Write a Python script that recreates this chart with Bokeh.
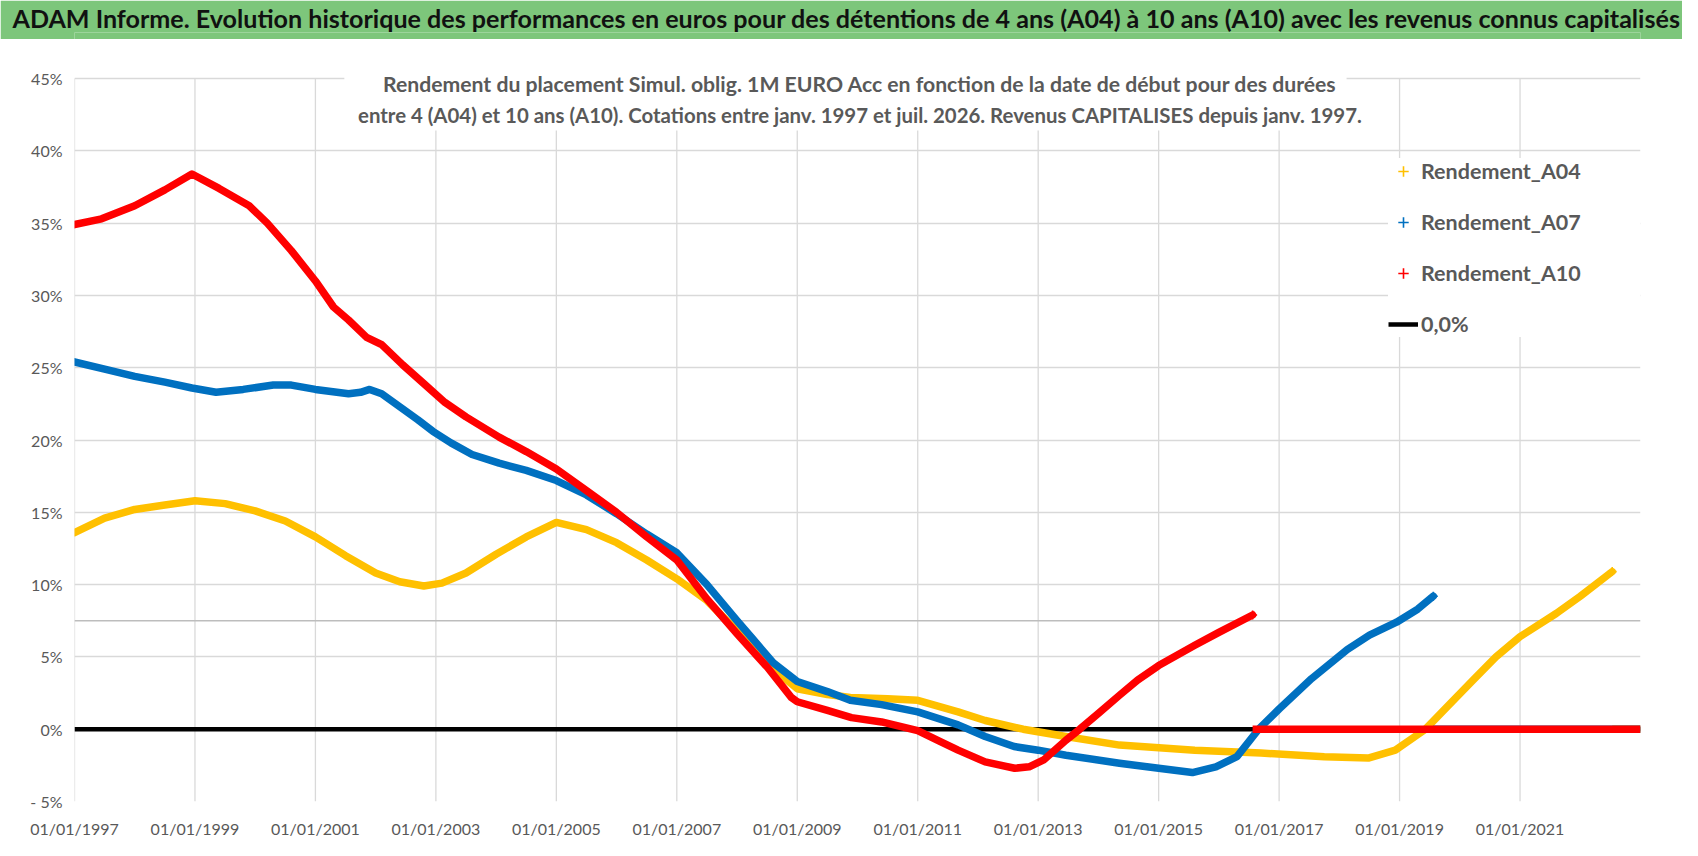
from bokeh.plotting import figure
from bokeh.models import (FixedTicker, Legend, LegendItem, Label, BoxAnnotation,
                          Span, Range1d)
from bokeh.layouts import column
from bokeh.embed import file_html
from bokeh.resources import INLINE

# ---------------- texts ----------------
TITLE = ("ADAM Informe. Evolution historique des performances en euros pour des "
         "détentions de 4 ans (A04) à 10 ans (A10) avec les revenus connus capitalisés")
SUBTITLE_1 = ("Rendement du placement Simul. oblig. 1M EURO Acc en fonction de la date "
              "de début pour des durées")
SUBTITLE_2 = ("entre 4 (A04) et 10 ans (A10). Cotations entre janv. 1997 et juil. 2026. "
              "Revenus CAPITALISES depuis janv. 1997.")

# ---------------- axes ----------------
x_tick_years = [1997, 1999, 2001, 2003, 2005, 2007, 2009, 2011, 2013, 2015, 2017, 2019, 2021]
x_tick_labels = ["01/01/1997", "01/01/1999", "01/01/2001", "01/01/2003", "01/01/2005",
                 "01/01/2007", "01/01/2009", "01/01/2011", "01/01/2013", "01/01/2015",
                 "01/01/2017", "01/01/2019", "01/01/2021"]
y_tick_values = [-5, 0, 5, 10, 15, 20, 25, 30, 35, 40, 45]
y_tick_labels = ["- 5%", "0%", "5%", "10%", "15%", "20%", "25%", "30%", "35%", "40%", "45%"]
X_START, X_END = 1997.0, 2023.0
Y_MIN, Y_MAX = -5, 45
Y_FRAME_TOP = 47.7          # frame extends a little above the 45% line (room for subtitle)

# ---------------- data (decimal year, %) ----------------
a04_dates = [1997.0, 1997.5, 1998.0, 1998.5, 1999.0, 1999.5, 2000.0, 2000.5, 2001.0, 2001.5,
             2002.0, 2002.4, 2002.8, 2003.1, 2003.5, 2004.0, 2004.5, 2005.0, 2005.5, 2006.0,
             2006.5, 2007.0, 2007.5, 2008.0, 2008.5, 2009.0, 2009.5, 2009.88, 2010.5, 2011.0,
             2011.67, 2012.12, 2012.75, 2013.46, 2014.35, 2015.6, 2016.7, 2017.75, 2018.48,
             2018.93, 2019.43, 2019.8, 2020.22, 2020.6, 2021.0, 2021.6, 2022.0, 2022.53]
a04_values = [13.6, 14.6, 15.2, 15.5, 15.8, 15.6, 15.1, 14.4, 13.3, 12.0,
              10.8, 10.2, 9.9, 10.1, 10.8, 12.1, 13.3, 14.3, 13.8, 12.9,
              11.7, 10.4, 8.9, 6.8, 4.5, 2.8, 2.4, 2.2, 2.1, 2.0,
              1.2, 0.6, 0.0, -0.5, -1.1, -1.45, -1.65, -1.9, -2.0,
              -1.45, 0.0, 1.6, 3.4, 5.0, 6.4, 8.0, 9.2, 10.9]

a07_dates = [1997.0, 1997.5, 1998.0, 1998.5, 1998.95, 1999.35, 1999.8, 2000.3, 2000.6, 2001.0,
             2001.55, 2001.75, 2001.9, 2002.1, 2002.4, 2002.7, 2002.95, 2003.25, 2003.6, 2004.05,
             2004.5, 2005.0, 2005.5, 2006.0, 2006.5, 2007.0, 2007.5, 2008.0, 2008.27, 2008.6,
             2009.0, 2009.5, 2009.88, 2010.4, 2011.0, 2011.67, 2012.12, 2012.6, 2013.0, 2013.46,
             2014.35, 2015.0, 2015.56, 2015.95, 2016.3, 2016.66, 2017.0, 2017.54, 2018.13,
             2018.5, 2018.95, 2019.3, 2019.56]
a07_values = [25.4, 24.9, 24.4, 24.0, 23.6, 23.3, 23.5, 23.8, 23.8, 23.5,
              23.2, 23.3, 23.5, 23.2, 22.3, 21.4, 20.6, 19.8, 19.0, 18.4,
              17.9, 17.2, 16.2, 14.9, 13.5, 12.2, 10.0, 7.5, 6.2, 4.6,
              3.3, 2.6, 2.0, 1.7, 1.2, 0.3, -0.5, -1.2, -1.45, -1.8,
              -2.35, -2.7, -3.0, -2.6, -1.9, 0.0, 1.4, 3.5, 5.5,
              6.5, 7.4, 8.3, 9.2]

a10_dates = [1997.0, 1997.45, 1998.0, 1998.5, 1998.95, 1999.4, 1999.9, 2000.2, 2000.6, 2001.0,
             2001.3, 2001.55, 2001.85, 2002.1, 2002.45, 2002.8, 2003.15, 2003.5, 2004.05, 2004.5,
             2005.0, 2005.5, 2006.0, 2006.5, 2007.0, 2007.5, 2008.0, 2008.5, 2008.9, 2009.0,
             2009.5, 2009.9, 2010.4, 2011.0, 2011.35, 2011.67, 2012.12, 2012.61, 2012.85, 2013.1,
             2013.46, 2013.69, 2014.0, 2014.35, 2014.65, 2015.0, 2015.6, 2016.0, 2016.56]
a10_values = [34.9, 35.3, 36.2, 37.3, 38.4, 37.4, 36.2, 35.0, 33.1, 31.0,
              29.2, 28.3, 27.1, 26.6, 25.2, 23.9, 22.6, 21.6, 20.2, 19.2,
              18.0, 16.5, 15.0, 13.3, 11.7, 9.0, 6.6, 4.3, 2.2, 1.9,
              1.3, 0.8, 0.5, -0.1, -0.8, -1.45, -2.26, -2.7, -2.6, -2.1,
              -0.76, 0.0, 1.1, 2.35, 3.4, 4.4, 5.8, 6.7, 7.9]

# values shown as 0 after each series' last quotation
a04_tail_dates, a04_tail_values = [2022.53, 2023.0], [0.0, 0.0]
a07_tail_dates, a07_tail_values = [2019.56, 2023.0], [0.0, 0.0]
a10_tail_dates, a10_tail_values = [2016.56, 2023.0], [0.0, 0.0]

zero_dates, zero_values = [1997.0, 2023.0], [0.0, 0.0]
reference_level = 7.5

YELLOW, BLUE, RED = "#FFC000", "#0070C0", "#FF0000"
GREEN = "#7DC67B"
GRID = "#D9D9D9"
LABEL_GRAY = "#595959"
FONT = "Lato"

FRAME_L, FRAME_R = 74, 42

# ---------------- title bar ----------------
t = figure(width=1682, height=39, x_range=Range1d(0, 1), y_range=Range1d(0, 1),
           title=TITLE, toolbar_location=None, output_backend="svg",
           min_border_left=FRAME_L, min_border_right=FRAME_R,
           min_border_top=6, min_border_bottom=0,
           x_axis_location=None, y_axis_location=None)
t.grid.visible = False
t.outline_line_color = None
t.background_fill_color = GREEN
t.border_fill_color = GREEN
t.title.align = "left"
t.title.offset = 12 - FRAME_L
t.title.standoff = 0
t.title.text_font = FONT
t.title.text_font_style = "bold"
t.title.text_font_size = "25.1px"
t.title.text_color = "#111111"

# ---------------- main chart ----------------
p = figure(width=1682, height=801, x_range=Range1d(X_START, X_END),
           y_range=Range1d(Y_MIN, Y_FRAME_TOP), toolbar_location=None, output_backend="svg",
           min_border_left=FRAME_L, min_border_right=FRAME_R, min_border_top=0,
           min_border_bottom=39)
p.outline_line_color = None
p.background_fill_color = "white"
p.border_fill_color = "white"

p.xaxis.ticker = FixedTicker(ticks=x_tick_years)
p.xaxis.major_label_overrides = {k: v for k, v in zip(x_tick_years, x_tick_labels)}
p.yaxis.ticker = FixedTicker(ticks=y_tick_values)
p.yaxis.major_label_overrides = {k: v for k, v in zip(y_tick_values, y_tick_labels)}
for ax in (p.xaxis, p.yaxis):
    ax.axis_line_color = None
    ax.major_tick_line_color = None
    ax.minor_tick_line_color = None
    ax.major_tick_out = 0
    ax.major_tick_in = 0
    ax.minor_tick_out = 0
    ax.major_label_text_font = FONT
    ax.major_label_text_font_size = "16px"
    ax.major_label_text_color = LABEL_GRAY
p.xaxis.major_label_standoff = 17
p.yaxis.major_label_standoff = 12

p.xgrid.visible = False
p.ygrid.grid_line_color = GRID
p.ygrid.grid_line_width = 1.3
# vertical grid lines limited to the value axis span
p.segment(x0=x_tick_years, x1=x_tick_years, y0=[Y_MIN] * len(x_tick_years),
          y1=[Y_MAX] * len(x_tick_years), line_color=GRID, line_width=1.3, level="underlay")

p.add_layout(Span(location=reference_level, dimension="width", line_color="#BDBDBD",
                  line_width=1.6, level="underlay"))

zero_r = p.line(zero_dates, zero_values, line_color="black", line_width=4.5)

leg_r = []
for d, v, td, tv, c in ((a04_dates, a04_values, a04_tail_dates, a04_tail_values, YELLOW),
                        (a07_dates, a07_values, a07_tail_dates, a07_tail_values, BLUE),
                        (a10_dates, a10_values, a10_tail_dates, a10_tail_values, RED)):
    p.line(d, v, line_color=c, line_width=7.5, line_join="round", line_cap="round")
    p.line(td, tv, line_color=c, line_width=7.5)
    leg_r.append(p.scatter(d[-1:], v[-1:], marker="cross", size=9, line_color=c,
                           line_width=1.6))

# subtitle with white backing
p.add_layout(BoxAnnotation(left=2001.48, right=2018.12, bottom=41.4, fill_color="white",
                           fill_alpha=1.0, line_color=None, level="underlay"))
for txt, yy, fs in ((SUBTITLE_1, 44.65, "21.2px"), (SUBTITLE_2, 42.48, "20.4px")):
    p.add_layout(Label(x=2010.04, y=yy, text=txt, text_align="center", text_baseline="middle",
                       text_font=FONT, text_font_style="bold", text_font_size=fs,
                       text_color=LABEL_GRAY))

# legend
legend = Legend(items=[LegendItem(label="Rendement_A04", renderers=[leg_r[0]]),
                       LegendItem(label="Rendement_A07", renderers=[leg_r[1]]),
                       LegendItem(label="Rendement_A10", renderers=[leg_r[2]]),
                       LegendItem(label="0,0%", renderers=[zero_r])],
                location=(1314, 464), background_fill_color="white",
                background_fill_alpha=1.0, border_line_color=None, padding=10,
                spacing=25, glyph_width=30, glyph_height=26, label_height=26,
                label_width=240, label_standoff=3, margin=0,
                label_text_font=FONT, label_text_font_style="bold",
                label_text_font_size="21.5px", label_text_color=LABEL_GRAY)
p.add_layout(legend)

page = column(t, p, spacing=0)
open("out.html", "w").write(file_html(page, INLINE))
